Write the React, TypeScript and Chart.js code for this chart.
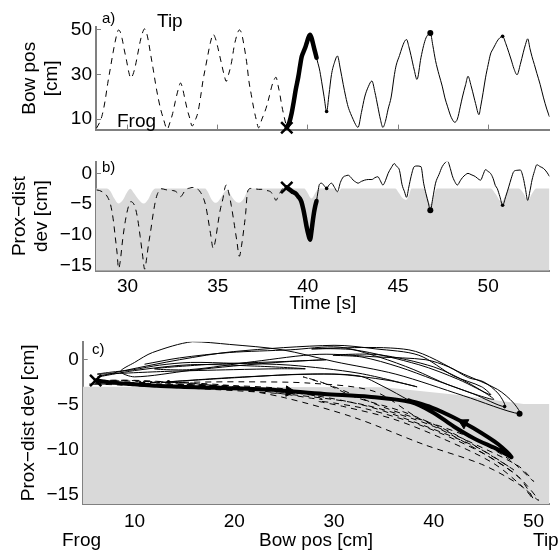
import React, { useEffect, useRef } from 'react';
import { Chart, registerables } from 'chart.js';

Chart.register(...registerables);

// ---- data: one common time base; panel c is bowPos vs proxDev ----
const time = [
  28.28, 28.45, 28.6, 28.75, 28.9, 29.05, 29.2, 29.32, 29.42, 29.5,
  29.6, 29.7, 29.82, 29.95, 30.07, 30.18, 30.3, 30.42, 30.56, 30.7,
  30.82, 30.95, 31.06, 31.16, 31.28, 31.43, 31.57, 31.71, 31.85, 31.98,
  32.2, 32.35, 32.5, 32.65, 32.8, 32.94, 33.06, 33.18, 33.32, 33.45,
  33.58, 33.75, 33.91, 34.05, 34.19, 34.33, 34.46, 34.6, 34.75, 34.88,
  35.01, 35.15, 35.29, 35.38, 35.47, 35.6, 35.75, 35.93, 36.06, 36.2,
  36.32, 36.45, 36.55, 36.63, 36.72, 36.86, 37.0, 37.13, 37.27, 37.45,
  37.6, 37.73, 37.87, 38.0, 38.12, 38.23, 38.35, 38.45, 38.55, 38.7,
  38.83, 38.97, 39.1, 39.22, 39.33, 39.47, 39.56, 39.65, 39.75, 39.85,
  39.93, 40.03, 40.12, 40.2, 40.28, 40.34, 40.41, 40.48, 40.56, 40.64,
  40.76, 40.9, 41.04, 41.17, 41.31, 41.48, 41.64, 41.8, 41.96, 42.1,
  42.23, 42.37, 42.51, 42.65, 42.78, 42.97, 43.15, 43.35, 43.55, 43.72,
  43.88, 44.02, 44.16, 44.3, 44.45, 44.62, 44.8, 44.9, 45.08, 45.22,
  45.36, 45.47, 45.6, 45.72, 45.9, 46.05, 46.27, 46.42, 46.55, 46.68,
  46.79, 46.93, 47.08, 47.27, 47.45, 47.6, 47.74, 47.9, 48.0, 48.14,
  48.29, 48.45, 48.57, 48.75, 48.88, 49.05, 49.21, 49.3, 49.49, 49.58,
  49.72, 49.85, 50.0, 50.13, 50.27, 50.4, 50.5, 50.65, 50.8, 50.97,
  51.14, 51.28, 51.42, 51.6, 51.78, 51.95, 52.07, 52.19, 52.32, 52.43,
  52.56, 52.7, 52.88, 53.07, 53.25, 53.4,
];

const bowPos = [
  6.0, 8.5, 12.0, 18.0, 26.0, 33.0, 40.0, 45.0, 48.5, 50.0,
  49.0, 46.0, 41.0, 36.0, 31.0, 28.4, 30.0, 33.4, 39.0, 44.8,
  48.5, 50.5, 48.5, 44.8, 39.0, 32.0, 25.0, 19.0, 14.0, 10.4,
  5.5, 8.5, 12.5, 18.0, 23.0, 26.2, 23.5, 19.0, 14.0, 10.4,
  6.9, 9.5, 13.3, 20.0, 27.6, 33.5, 39.0, 44.5, 48.0, 46.0,
  42.0, 37.0, 32.0, 29.0, 26.9, 30.0, 34.8, 43.4, 47.5, 50.0,
  48.5, 43.4, 38.5, 34.0, 27.6, 21.0, 14.7, 10.0, 6.1, 10.0,
  13.0, 16.2, 20.5, 24.8, 27.5, 28.8, 25.0, 21.0, 16.2, 10.5,
  6.1, 8.5, 12.6, 18.0, 23.3, 29.0, 33.5, 37.7, 40.0, 42.0,
  44.0, 46.5, 47.8, 46.5, 44.0, 42.0, 39.8, 37.5, 35.0, 32.5,
  27.0, 20.0, 13.4, 21.0, 30.0, 35.5, 38.3, 32.5, 25.6, 20.0,
  15.6, 12.5, 9.9, 7.5, 6.3, 13.0, 19.9, 24.5, 27.1, 22.0,
  15.6, 10.0, 6.3, 9.0, 14.5, 19.9, 30.0, 34.2, 38.5, 42.0,
  44.8, 45.7, 42.5, 38.5, 32.0, 27.8, 37.5, 43.0, 46.4, 48.0,
  48.6, 43.0, 36.2, 30.0, 24.8, 19.5, 15.8, 11.8, 10.0, 8.6,
  10.0, 15.5, 19.9, 25.5, 29.2, 25.0, 19.9, 17.0, 12.0, 15.5,
  22.0, 28.5, 34.5, 39.2, 41.5, 43.5, 45.0, 46.5, 47.1, 44.0,
  40.0, 36.5, 32.8, 29.9, 34.5, 40.0, 43.5, 46.0, 41.5, 38.0,
  34.5, 30.5, 25.6, 19.5, 14.5, 11.0,
];

const proxDev = [
  -2.7, -2.8, -3.0, -3.3, -3.9, -5.0, -7.4, -10.4, -13.0, -15.5,
  -14.2, -11.5, -8.8, -6.6, -5.2, -4.6, -4.8, -5.5, -7.4, -10.3,
  -13.0, -15.6, -13.8, -11.6, -9.4, -6.4, -4.2, -3.0, -2.5, -2.55,
  -2.7, -2.7, -2.8, -2.9, -3.3, -3.8, -3.4, -2.8, -2.5, -2.4,
  -2.3, -2.3, -2.6, -3.1, -3.9, -5.2, -7.3, -9.8, -12.2, -10.8,
  -8.2, -5.8, -4.1, -2.6, -1.9, -3.0, -5.2, -8.5, -11.0, -13.5,
  -11.8, -9.0, -6.5, -3.5, -2.6, -2.45, -2.5, -2.55, -2.6, -2.6,
  -2.7, -2.8, -2.9, -3.2, -3.8, -4.4, -3.8, -3.2, -2.7, -2.3,
  -2.3, -2.6, -2.9, -3.1, -3.3, -3.8, -4.1, -4.7, -5.9, -7.4,
  -8.7, -10.0, -10.8, -9.4, -7.6, -6.4, -5.3, -4.5, -3.0, -1.8,
  -1.6, -2.0, -2.45, -1.9, -1.6, -2.3, -3.0, -1.5, -0.6, -0.4,
  -0.3, -0.6, -1.1, -1.4, -1.6, -1.3, -1.1, -1.0, -1.0, -0.7,
  -0.55, -1.2, -1.9, -1.2, 0.0, 0.9, 1.6, 1.2, 0.5, -1.8,
  -3.0, -3.9, -2.2, -0.55, 1.1, 1.2, 1.1, -1.6, -3.3, -4.8,
  -6.0, -4.0, -1.6, -0.2, 1.1, 1.7, 2.0, 0.8, -0.3, -1.3,
  -1.9, -1.2, -0.7, -0.2, 0.0, -0.2, -0.4, -0.55, -1.0, -1.1,
  -0.2, 0.6, 0.3, 0.0, -0.8, -2.0, -2.45, -3.8, -5.2, -3.8,
  -2.2, -0.8, 0.3, 0.5, 0.55, -0.8, -2.6, -4.4, -2.8, -1.1,
  0.3, 1.4, 1.1, 0.8, 0.2, -0.5,
];

const crossTime = 38.83;      // X marker / start of bold stroke
const boldEndTime = 40.48;    // end of bold stroke
const dotTimes = [41.04, 46.79, 50.8];
const dotSizes = [1.8, 3, 1.8];

// grey region in panel b (upper edge over time)
const grayBTime = [
  28.25, 28.85, 29.05, 29.25, 29.5, 29.75, 29.95, 30.15, 30.35, 30.6,
  30.9, 31.15, 31.35, 31.55, 34.3, 34.45, 34.65, 34.9, 35.15, 35.35,
  35.53, 35.7, 35.9, 36.17, 36.45, 36.62, 36.75, 39.8, 39.95, 40.2,
  40.45, 40.6, 41.45, 41.66, 41.87, 44.85, 45.05, 45.25, 45.45, 45.6,
  45.75, 46.45, 46.6, 46.8, 47.0, 47.15, 50.15, 50.4, 50.75, 50.95,
  51.15, 51.7, 51.95, 52.2, 52.45, 52.65, 53.4,
];
const grayBTop = [
  -2.45, -2.45, -2.9, -4.0, -4.9, -4.3, -3.2, -2.5, -3.2, -4.2,
  -4.9, -4.2, -3.0, -2.45, -2.45, -3.0, -4.2, -4.8, -4.1, -3.1,
  -2.7, -3.4, -4.3, -4.8, -4.1, -3.0, -2.45, -2.45, -3.0, -4.1,
  -3.0, -2.45, -2.45, -3.1, -2.45, -2.45, -3.2, -4.0, -4.3, -3.6,
  -2.45, -2.45, -3.6, -5.0, -3.6, -2.45, -2.45, -3.3, -4.6, -3.6,
  -2.45, -2.45, -3.2, -4.4, -3.2, -2.45, -2.45,
];

// grey region in panel c (upper edge over bow position)
const grayCPos = [4.8, 35, 42, 49, 51.6];
const grayCTop = [-3.0, -3.05, -3.85, -4.9, -4.9];

// arrow heads on the bold loop in panel c
const arrowPos = [25.5, 43.0];
const arrowDev = [-3.5, -7.0];
const arrowAngle = [94, 298];

const timeTicks = [30, 35, 40, 45, 50];
const bowTicks = [10, 30, 50];
const devTicks = [-15, -10, -5, 0];
const posTicks = [10, 20, 30, 40, 50];

const timeRange = [28.25, 53.4];
const bowRange = [5.3, 51.3];
const devRangeB = [-15.85, 1.9];
const devRangeC = [-16, 2];
const posRange = [4.8, 51.6];

// ---- styling helpers ----
const FONT = "'Liberation Sans', Arial, Helvetica, sans-serif";
const AXIS = '#808080';
const GRAY = '#d9d9d9';
Chart.defaults.font.family = FONT;
Chart.defaults.color = '#000';

const fmt = (v: number) => (v < 0 ? '\u2212' + Math.abs(v) : String(v));

function axis(o: any) {
  return {
    type: 'linear',
    min: o.min,
    max: o.max,
    afterBuildTicks: (s: any) => {
      s.ticks = o.ticks.map((v: number) => ({ value: v }));
    },
    afterFit: (s: any) => {
      if (o.width != null) s.width = o.width;
      if (o.height != null) s.height = o.height;
    },
    border: { display: true, color: AXIS, width: 2 },
    grid: { display: true, drawOnChartArea: false, drawTicks: true, tickLength: -5, color: AXIS, lineWidth: 1 },
    ticks: {
      display: o.labels !== false,
      padding: o.pad ?? 9,
      color: '#000',
      font: { size: 19, family: FONT },
      maxRotation: 0,
      autoSkip: false,
      callback: (v: any) => fmt(Number(v)),
    },
    title: o.title
      ? { display: true, text: o.title, color: '#000', font: { size: 19, family: FONT }, padding: o.titlePad }
      : { display: false },
  };
}

type Lbl = { text: string; x: number; y: number; size: number };
function textPlugin(id: string, items: Lbl[]) {
  return {
    id,
    afterDraw(chart: any) {
      const ctx = chart.ctx;
      ctx.save();
      ctx.fillStyle = '#000';
      ctx.textBaseline = 'alphabetic';
      ctx.textAlign = 'left';
      for (const it of items) {
        ctx.font = `${it.size}px ${FONT}`;
        ctx.fillText(it.text, it.x, it.y);
      }
      ctx.restore();
    },
  };
}

const idx = (t: number) => time.indexOf(t);
const iX = idx(crossTime);
const iE = idx(boldEndTime);
const nPts = time.length;

function pts(xs: number[], ys: number[], a: number, b: number) {
  const out: { x: number; y: number }[] = [];
  for (let i = a; i <= b; i++) out.push({ x: xs[i], y: ys[i] });
  return out;
}

function traceSets(xs: number[], ys: number[], mono: boolean, thickW: number) {
  const interp = mono ? { cubicInterpolationMode: 'monotone' } : { tension: 0.3 };
  return [
    {
      data: [{ x: xs[iX], y: ys[iX] }],
      showLine: false,
      pointStyle: 'crossRot',
      pointRadius: 8,
      pointBorderWidth: 2.5,
      pointBorderColor: '#000',
      clip: false,
    },
    {
      data: dotTimes.map((t) => ({ x: xs[idx(t)], y: ys[idx(t)] })),
      showLine: false,
      pointStyle: 'circle',
      pointRadius: dotSizes,
      pointBackgroundColor: '#000',
      pointBorderColor: '#000',
      pointBorderWidth: 0,
    },
    {
      data: pts(xs, ys, iX, iE),
      borderColor: '#000',
      borderWidth: thickW,
      borderCapStyle: 'round',
      borderJoinStyle: 'round',
      pointRadius: 0,
      ...interp,
    },
    {
      data: pts(xs, ys, iE, nPts - 1),
      borderColor: '#000',
      borderWidth: 1,
      pointRadius: 0,
      ...interp,
    },
    {
      data: pts(xs, ys, 0, iX),
      borderColor: '#000',
      borderWidth: 1,
      borderDash: [6, 5],
      pointRadius: 0,
      ...interp,
    },
  ];
}

const baseOpts = (padTop: number, scales: any) => ({
  animation: false,
  responsive: false,
  devicePixelRatio: 1,
  events: [],
  layout: { padding: { top: padTop, right: 7, left: 0, bottom: 0 } },
  plugins: { legend: { display: false }, tooltip: { enabled: false }, title: { display: false } },
  scales,
  elements: { point: { radius: 0 } },
});

function cfgA(): any {
  return {
    type: 'line',
    data: { datasets: traceSets(time, bowPos, true, 4.5) },
    options: baseOpts(27, {
      x: axis({ min: timeRange[0], max: timeRange[1], ticks: timeTicks, height: 16, labels: false }),
      y: axis({ min: bowRange[0], max: bowRange[1], ticks: bowTicks, width: 96, pad: 9, title: ['Bow pos', '[cm]'], titlePad: { top: 18, bottom: 0 } }),
    }),
    plugins: [
      textPlugin('lblA', [
        { text: 'a)', x: 102, y: 23, size: 15 },
        { text: 'Tip', x: 157, y: 27, size: 19 },
        { text: 'Frog', x: 117, y: 127, size: 19 },
      ]),
    ],
  };
}

function cfgB(): any {
  const sets: any[] = traceSets(time, proxDev, true, 4.5);
  sets.push({
    data: grayBTime.map((t, i) => ({ x: t, y: grayBTop[i] })),
    borderColor: 'rgba(0,0,0,0)',
    backgroundColor: GRAY,
    fill: 'start',
    pointRadius: 0,
    cubicInterpolationMode: 'monotone',
  });
  return {
    type: 'line',
    data: { datasets: sets },
    options: baseOpts(26.7, {
      x: axis({ min: timeRange[0], max: timeRange[1], ticks: timeTicks, height: 44.3, pad: 10, title: 'Time [s]', titlePad: { top: 0, bottom: 0 } }),
      y: axis({ min: devRangeB[0], max: devRangeB[1], ticks: devTicks, width: 96, pad: 9, title: ['Prox\u2212dist', 'dev [cm]'], titlePad: { top: 8, bottom: 0 } }),
    }),
    plugins: [textPlugin('lblB', [{ text: 'b)', x: 102, y: 37, size: 15 }])],
  };
}

function cfgC(): any {
  const sets: any[] = traceSets(bowPos, proxDev, false, 4);
  sets.splice(2, 0, {
    data: arrowPos.map((p, i) => ({ x: p, y: arrowDev[i] })),
    showLine: false,
    pointStyle: 'triangle',
    pointRadius: 6,
    pointRotation: arrowAngle,
    pointBackgroundColor: '#000',
    pointBorderColor: '#000',
    pointBorderWidth: 1,
  });
  sets.push({
    data: grayCPos.map((p, i) => ({ x: p, y: grayCTop[i] })),
    borderColor: 'rgba(0,0,0,0)',
    backgroundColor: GRAY,
    fill: 'start',
    pointRadius: 0,
    tension: 0,
  });
  return {
    type: 'line',
    data: { datasets: sets },
    options: baseOpts(26.7, {
      x: axis({ min: posRange[0], max: posRange[1], ticks: posTicks, height: 48, pad: 11, title: 'Bow pos [cm]', titlePad: { top: 0, bottom: 0 } }),
      y: axis({ min: devRangeC[0], max: devRangeC[1], ticks: devTicks, width: 82.7, pad: 9, title: 'Prox\u2212dist dev [cm]', titlePad: { top: 17, bottom: 0 } }),
    }),
    plugins: [
      textPlugin('lblC', [
        { text: 'c)', x: 92, y: 39, size: 15 },
        { text: 'Frog', x: 62, y: 231, size: 19 },
        { text: 'Tip', x: 533, y: 231, size: 19 },
      ]),
    ],
  };
}

export default function App() {
  const refA = useRef<HTMLCanvasElement>(null);
  const refB = useRef<HTMLCanvasElement>(null);
  const refC = useRef<HTMLCanvasElement>(null);

  useEffect(() => {
    const charts = [
      new Chart(refA.current as HTMLCanvasElement, cfgA()),
      new Chart(refB.current as HTMLCanvasElement, cfgB()),
      new Chart(refC.current as HTMLCanvasElement, cfgC()),
    ];
    return () => charts.forEach((c) => c.destroy());
  }, []);

  return (
    <div style={{ position: 'absolute', left: 0, top: 0, width: 560, height: 552, background: '#fff' }}>
      <canvas ref={refA} width={560} height={150} style={{ position: 'absolute', left: 0, top: 0 }} />
      <canvas ref={refB} width={560} height={180} style={{ position: 'absolute', left: 0, top: 135 }} />
      <canvas ref={refC} width={560} height={237} style={{ position: 'absolute', left: 0, top: 315 }} />
    </div>
  );
}
